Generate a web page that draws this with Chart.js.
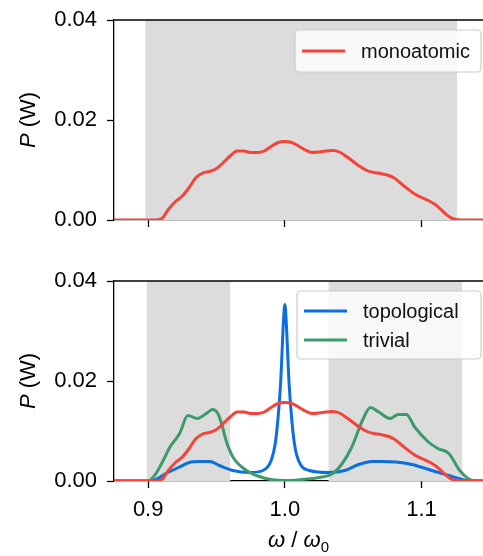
<!DOCTYPE html>
<html>
<head>
<meta charset="utf-8">
<script src="https://cdn.jsdelivr.net/npm/chart.js@4.4.1/dist/chart.umd.min.js"></script>
<style>
  html, body { margin: 0; padding: 0; background: #fff; }
  #wrap { width: 483px; height: 556px; position: relative; }
  #topBox { position: absolute; left: 0; top: 0; width: 483px; height: 250px; }
  #botBox { position: absolute; left: 0; top: 250px; width: 483px; height: 306px; }
</style>
</head>
<body>
<div id="wrap">
  <div id="topBox"><canvas id="monoChart"></canvas></div>
  <div id="botBox"><canvas id="compChart"></canvas></div>
</div>
<script>
// frequency (omega / omega0) and power values
const monoX = [0.875, 0.9, 0.905, 0.91, 0.915, 0.92, 0.925, 0.93, 0.935, 0.94, 0.945, 0.95, 0.955, 0.96, 0.965, 0.97, 0.975, 0.98, 0.985, 0.99, 0.995, 1.0,
  1.005, 1.01, 1.015, 1.02, 1.025, 1.03, 1.035, 1.04, 1.045, 1.05, 1.055, 1.06, 1.065, 1.07, 1.075, 1.08, 1.085, 1.09, 1.095, 1.1, 1.105, 1.11, 1.115, 1.12, 1.125, 1.13, 1.145];
const monoY = [0, 0, 0, 0.0003, 0.0022, 0.0037, 0.0048, 0.0065, 0.0085, 0.0094, 0.0097, 0.0103, 0.0115, 0.0128, 0.0138, 0.0138, 0.0135, 0.0135, 0.0138, 0.0147, 0.0155, 0.0157,
  0.0155, 0.0148, 0.014, 0.0135, 0.0136, 0.0138, 0.0139, 0.0136, 0.0127, 0.0117, 0.0107, 0.0099, 0.0095, 0.0093, 0.009, 0.0084, 0.0073, 0.0062, 0.0052, 0.0045, 0.0039, 0.0031, 0.0019, 0.0007, 0.0001, 0, 0];

const topoX = [0.875, 0.9, 0.905, 0.913, 0.923, 0.93, 0.938, 0.945, 0.952, 0.962, 0.974, 0.984, 0.99, 0.993, 0.995, 0.997, 0.998, 0.999, 1.0,
  1.001, 1.002, 1.003, 1.005, 1.007, 1.01, 1.018, 1.032, 1.044, 1.054, 1.064, 1.072, 1.081, 1.093, 1.1075, 1.12, 1.13, 1.135, 1.145];
const topoY = [0, 0, 0.0002, 0.0015, 0.0028, 0.0037, 0.0039, 0.0039, 0.0031, 0.0021, 0.0017, 0.0021, 0.0041, 0.0075, 0.0125, 0.02, 0.026, 0.032, 0.0353,
  0.032, 0.026, 0.02, 0.0125, 0.0075, 0.0041, 0.0021, 0.0017, 0.0021, 0.0033, 0.0039, 0.0039, 0.0038, 0.0033, 0.0021, 0.0011, 0.0003, 0, 0];

const trivX = [0.875, 0.9, 0.905, 0.911, 0.916, 0.923, 0.929, 0.936, 0.9425, 0.947, 0.951, 0.954, 0.957, 0.962, 0.972, 0.986, 1.0,
  1.012, 1.025, 1.035, 1.042, 1.049, 1.0566, 1.0626, 1.0687, 1.077, 1.083, 1.089, 1.095, 1.105, 1.112, 1.12, 1.128, 1.134, 1.14, 1.145];
const trivY = [0, 0, 0.0012, 0.0041, 0.0068, 0.0095, 0.0131, 0.0125, 0.0135, 0.0143, 0.0135, 0.0112, 0.0081, 0.0048, 0.0021, 0.0005, 0.0001,
  0.0003, 0.0007, 0.0015, 0.0035, 0.0068, 0.012, 0.0147, 0.0138, 0.0125, 0.0133, 0.0133, 0.0108, 0.0078, 0.0065, 0.0055, 0.0021, 0.0005, 0, 0];

// shaded frequency bands
const monoBands = [[0.898, 1.126]];
const compBands = [[0.899, 0.960], [1.032, 1.1297]];

const xTicks = [0.9, 1.0, 1.1];
const yTicks = [0, 0.02, 0.04];

const RED = '#f5433a';
const BLUE = '#0b6fe0';
const GREEN = '#3d9a6a';
const FONT = "'Liberation Sans', Arial, sans-serif";

const toPoints = (xs, ys) => xs.map((x, i) => ({ x: x, y: ys[i] }));

// gray bands behind the curves + top frame line
const bandPlugin = {
  id: 'bands',
  beforeDatasetsDraw(chart, args, opts) {
    const { ctx, chartArea, scales } = chart;
    ctx.save();
    ctx.fillStyle = '#dcdcdc';
    opts.bands.forEach(b => {
      const x0 = scales.x.getPixelForValue(b[0]);
      const x1 = scales.x.getPixelForValue(b[1]);
      ctx.fillRect(x0, chartArea.top, x1 - x0, chartArea.bottom - chartArea.top);
    });
    ctx.restore();
  },
  afterDraw(chart) {
    const { ctx, chartArea } = chart;
    ctx.save();
    ctx.strokeStyle = '#000';
    ctx.lineWidth = 1.3;
    ctx.beginPath();
    ctx.moveTo(chartArea.left, chartArea.top);
    ctx.lineTo(chartArea.right, chartArea.top);
    ctx.stroke();
    ctx.restore();
  }
};

// matplotlib-like legend box inside the plot
const boxLegend = {
  id: 'boxLegend',
  afterDraw(chart, args, opts) {
    const { ctx } = chart;
    const sets = opts.show.map(name => chart.data.datasets.find(d => d.label === name));
    ctx.save();
    ctx.fillStyle = 'rgba(255,255,255,0.8)';
    ctx.strokeStyle = '#cccccc';
    ctx.lineWidth = 1.2;
    ctx.beginPath();
    ctx.roundRect(opts.x, opts.y, opts.w, opts.h, 4);
    ctx.fill();
    ctx.stroke();
    ctx.font = '20px ' + FONT;
    ctx.textBaseline = 'middle';
    sets.forEach((d, i) => {
      const y = opts.y + opts.first + i * opts.gap;
      ctx.strokeStyle = d.borderColor;
      ctx.lineWidth = 3;
      ctx.beginPath();
      ctx.moveTo(opts.x + 7, y);
      ctx.lineTo(opts.x + 50, y);
      ctx.stroke();
      ctx.fillStyle = '#111';
      ctx.fillText(d.label, opts.x + 66, y + 1);
    });
    ctx.restore();
  }
};

// axis titles: italic P (W) and omega / omega_0
const titles = {
  id: 'titles',
  afterDraw(chart, args, opts) {
    const { ctx, chartArea } = chart;
    ctx.save();
    ctx.fillStyle = '#000';
    ctx.textBaseline = 'middle';
    // y title
    ctx.translate(29, (chartArea.top + chartArea.bottom) / 2);
    ctx.rotate(-Math.PI / 2);
    ctx.font = 'italic 22px ' + FONT;
    const wP = ctx.measureText('P').width;
    ctx.font = '22px ' + FONT;
    const wW = ctx.measureText(' (W)').width;
    let sx = -(wP + wW) / 2;
    ctx.font = 'italic 22px ' + FONT;
    ctx.textAlign = 'left';
    ctx.fillText('P', sx, 0);
    ctx.font = '22px ' + FONT;
    ctx.fillText(' (W)', sx + wP, 0);
    ctx.restore();

    if (opts.xTitle) {
      ctx.save();
      ctx.fillStyle = '#000';
      ctx.textBaseline = 'alphabetic';
      ctx.textAlign = 'left';
      const base = opts.xTitleY;
      ctx.font = 'italic 22px ' + FONT;
      const w1 = ctx.measureText('ω').width;
      ctx.font = '22px ' + FONT;
      const w2 = ctx.measureText(' / ').width;
      ctx.font = '15px ' + FONT;
      const w3 = ctx.measureText('0').width;
      const total = w1 * 2 + w2 + w3;
      let x = (chartArea.left + chartArea.right) / 2 - total / 2;
      ctx.font = 'italic 22px ' + FONT;
      ctx.fillText('ω', x, base); x += w1;
      ctx.font = '22px ' + FONT;
      ctx.fillText(' / ', x, base); x += w2;
      ctx.font = 'italic 22px ' + FONT;
      ctx.fillText('ω', x, base); x += w1;
      ctx.font = '15px ' + FONT;
      ctx.fillText('0', x, base + 5);
      ctx.restore();
    }
  }
};

const makeScales = (showXLabels, xHeight) => ({
  x: {
    type: 'linear',
    min: 0.875,
    max: 1.145,
    afterBuildTicks: s => { s.ticks = xTicks.map(v => ({ value: v })); },
    afterFit: s => { s.height = xHeight; s.paddingLeft = 0; s.paddingRight = 0; },
    grid: { drawOnChartArea: false, drawTicks: true, tickLength: 7, tickWidth: 1.3, tickColor: '#000' },
    border: { display: true, color: '#000', width: 1.3 },
    ticks: {
      display: showXLabels,
      color: '#000',
      font: { family: FONT, size: 22 },
      padding: 9,
      maxRotation: 0,
      callback: v => v.toFixed(1)
    }
  },
  y: {
    min: 0,
    max: 0.04,
    afterBuildTicks: s => { s.ticks = yTicks.map(v => ({ value: v })); },
    afterFit: s => { s.width = 114; s.paddingTop = 0; s.paddingBottom = 0; },
    grid: { drawOnChartArea: false, drawTicks: true, tickLength: 7, tickWidth: 1.3, tickColor: '#000' },
    border: { display: true, color: '#000', width: 1.3 },
    ticks: {
      color: '#000',
      font: { family: FONT, size: 22 },
      padding: 10,
      callback: v => v.toFixed(2)
    }
  }
});

const lineSet = (label, xs, ys, color) => ({
  label: label,
  data: toPoints(xs, ys),
  borderColor: color,
  backgroundColor: color,
  borderWidth: 3,
  pointRadius: 0,
  tension: 0.35,
  cubicInterpolationMode: 'monotone',
  fill: false
});

const monoChart = new Chart(document.getElementById('monoChart').getContext('2d'), {
  type: 'line',
  data: {
    datasets: [lineSet('monoatomic', monoX, monoY, RED)]
  },
  options: {
    responsive: true,
    maintainAspectRatio: false,
    animation: false,
    layout: { padding: { top: 20, left: 0, right: 0, bottom: 0 } },
    scales: makeScales(false, 30),
    plugins: {
      legend: { display: false },
      tooltip: { enabled: false },
      bands: { bands: monoBands },
      boxLegend: { show: ['monoatomic'], x: 295, y: 30, w: 186, h: 42, first: 21, gap: 30 },
      titles: { xTitle: false }
    }
  },
  plugins: [bandPlugin, boxLegend, titles]
});

const compChart = new Chart(document.getElementById('compChart').getContext('2d'), {
  type: 'line',
  data: {
    datasets: [
      lineSet('monoatomic', monoX, monoY, RED),
      lineSet('trivial', trivX, trivY, GREEN),
      lineSet('topological', topoX, topoY, BLUE)
    ]
  },
  options: {
    responsive: true,
    maintainAspectRatio: false,
    animation: false,
    layout: { padding: { top: 31, left: 0, right: 0, bottom: 0 } },
    scales: makeScales(true, 75),
    plugins: {
      legend: { display: false },
      tooltip: { enabled: false },
      bands: { bands: compBands },
      boxLegend: { show: ['topological', 'trivial'], x: 297, y: 41, w: 184, h: 68, first: 20, gap: 29 },
      titles: { xTitle: true, xTitleY: 297 }
    }
  },
  plugins: [bandPlugin, boxLegend, titles]
});
</script>
</body>
</html>
